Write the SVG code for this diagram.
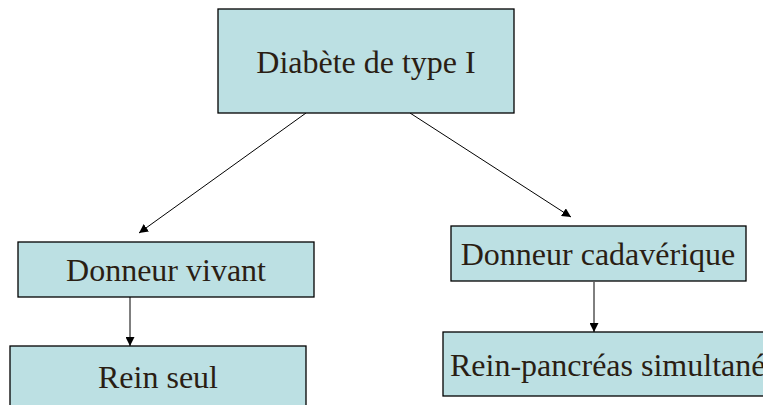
<svg xmlns="http://www.w3.org/2000/svg" width="763" height="405" viewBox="0 0 763 405">
<style>
.box{fill:#bce0e3;stroke:#000;stroke-width:1.3}
.lbl{font-family:"Liberation Serif","Times New Roman",serif;font-size:32px;fill:#2a1e14}
.con{stroke:#000;stroke-width:1;fill:none;marker-end:url(#ah)}
</style>
<defs>
<marker id="ah" viewBox="0 0 10 10" refX="10" refY="5" markerWidth="9" markerHeight="9" markerUnits="userSpaceOnUse" orient="auto">
<path d="M0,0 L10,5 L0,10 z" fill="#000"/>
</marker>
</defs>
<rect width="763" height="405" fill="#fff"/>
<g id="connectors">
<line class="con" x1="306" y1="113" x2="139" y2="233"/>
<line class="con" x1="410" y1="113" x2="571" y2="217"/>
<line class="con" x1="130" y1="297" x2="130" y2="346"/>
<line class="con" x1="594" y1="282" x2="594" y2="332"/>
</g>
<g id="n-diabete">
<rect class="box" x="218" y="9" width="296" height="104"/>
<text class="lbl" x="366" y="73" text-anchor="middle">Diabète de type I</text>
</g>
<g id="n-vivant">
<rect class="box" x="18" y="242" width="296" height="55"/>
<text class="lbl" x="166" y="281" text-anchor="middle">Donneur vivant</text>
</g>
<g id="n-cadaverique">
<rect class="box" x="451" y="226" width="295" height="55"/>
<text class="lbl" x="598" y="265" text-anchor="middle">Donneur cadavérique</text>
</g>
<g id="n-reinseul">
<rect class="box" x="10" y="346" width="296" height="70"/>
<text class="lbl" x="158" y="388" text-anchor="middle">Rein seul</text>
</g>
<g id="n-reinpancreas">
<rect class="box" x="443" y="332" width="340" height="64"/>
<text class="lbl" x="450" y="376">Rein-pancréas simultané</text>
</g>
</svg>
